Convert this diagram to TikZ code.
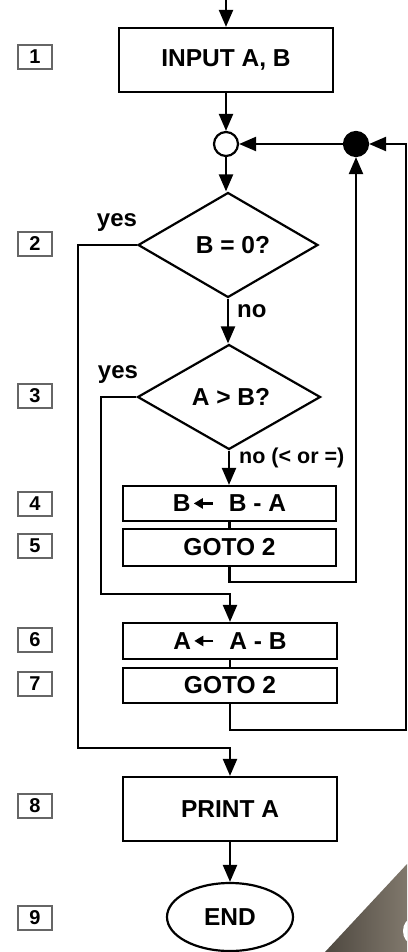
\documentclass[tikz,border=0pt]{standalone}
\usepackage{fontspec}
\setmainfont{Liberation Sans}
\usetikzlibrary{arrows.meta,shapes.geometric,calc}

\definecolor{cornerdark}{RGB}{78,72,64}
\definecolor{cornerlight}{RGB}{128,120,108}

\tikzset{
  x=1pt, y=-1pt,
  flow/.style={line width=2.2pt, draw=black},
  arr/.style={flow, -{Triangle[length=17pt,width=14pt]}},
  procbox/.style={flow, rectangle, inner sep=0pt, font=\fontsize{24.5}{28}\selectfont\bfseries},
  decision/.style={flow, diamond, inner sep=0pt, font=\fontsize{24.5}{28}\selectfont\bfseries},
  lbl/.style={inner sep=0pt, font=\fontsize{24}{28}\selectfont\bfseries},
  stepnum/.style={draw=black!60, line width=1.2pt, rectangle, inner sep=0pt,
                  minimum width=34pt, minimum height=24pt,
                  font=\fontsize{20}{22}\selectfont\bfseries},
}

% assignment arrow used inside the boxes
\newcommand{\assignarrow}{\hspace{2pt}\tikz[baseline={(0,-8.5pt)}, x=1pt, y=1pt]
  \draw[line width=2.2pt, -{Triangle[length=9pt,width=10pt]}] (19,0) -- (0,0);\hspace{15pt}}

\begin{document}
\begin{tikzpicture}
\useasboundingbox (0,0) rectangle (407,952);
\fill[white] (0,0) rectangle (407,952);

% corner decoration
\begin{scope}
  \clip (0,0) rectangle (407,952);
  \shade[shading angle=135, left color=cornerdark, right color=cornerlight]
    (325,952) -- (407,864) -- (407,952) -- cycle;
  \fill[white] (413,931) ellipse [x radius=10, y radius=13];
\end{scope}

% step numbers
\foreach \n/\yy in {1/57, 2/244, 3/396, 4/504, 5/546, 6/640, 7/684, 8/806, 9/918}
  \node[stepnum] (s\n) at (35,\yy) {\n};

% blocks
\coordinate (start) at (226,0);
\node[procbox, minimum width=214pt, minimum height=64pt] (inp) at (226,60) {INPUT A, B};
\node[flow, circle, inner sep=0pt, minimum size=24pt, fill=white] (jo) at (226,144) {};
\node[flow, circle, inner sep=0pt, minimum size=24pt, fill=black] (jf) at (356,144) {};
\node[decision, minimum width=180pt, minimum height=105pt] (d1) at (228,245) {\hspace*{10pt}B = 0?};
\node[decision, minimum width=183pt, minimum height=105pt] (d2) at (229,397) {\hspace*{4pt}A > B?};
\node[procbox, minimum width=213pt, minimum height=35pt] (b4) at (229.5,503.5) {B\assignarrow B - A};
\node[procbox, minimum width=213pt, minimum height=37pt] (b5) at (229.5,547.5) {GOTO 2};
\node[procbox, minimum width=214pt, minimum height=36pt] (b6) at (230,641) {A\assignarrow A - B};
\node[procbox, minimum width=214pt, minimum height=35pt] (b7) at (230,685.5) {GOTO 2};
\node[procbox, minimum width=214pt, minimum height=64pt] (b8) at (230,809) {PRINT A};
\node[flow, ellipse, inner sep=0pt, minimum width=126pt, minimum height=68pt,
      font=\fontsize{24.5}{28}\selectfont\bfseries] (fin) at (230,917) {END};

% branch labels
\node[lbl] (y1) at (117,223) {yes};
\node[lbl] (y2) at (118,375) {yes};
\node[lbl, anchor=west] (n1) at (237,311) {no};
\node[lbl, anchor=west, font=\fontsize{21.5}{24}\selectfont\bfseries] (n2) at (239,458) {no (< or =)};

% bend points
\coordinate (yesA) at (78,748);
\coordinate (yesB) at (101,594);
\coordinate (loopA) at (356,582);
\coordinate (loopB) at (406,730);

% connectors
\draw[arr] (start) -- (inp.north);
\draw[arr] (inp.south) -- (jo.north);
\draw[arr] (jo.south) -- (jo.south |- d1.north);
\draw[arr] (jf.west) -- (jo.east);
\draw[arr] (d1.south) -- (d1.south |- d2.north);
\draw[arr] (d2.south) -- (d2.south |- b4.north);
\draw[flow] (b4.south) -- (b5.north);
\draw[flow] (b6.south) -- (b7.north);
\draw[arr] (b8.south) -- (b8.south |- fin.north);
\draw[arr] (d1.west) -| (yesA) -| (b8.north);
\draw[arr] (d2.west) -| (yesB) -| (b6.north);
\draw[arr] (b5.south) |- (loopA) -- (jf.south);
\draw[arr] (b7.south) |- (loopB) |- (jf.east);
\end{tikzpicture}
\end{document}
